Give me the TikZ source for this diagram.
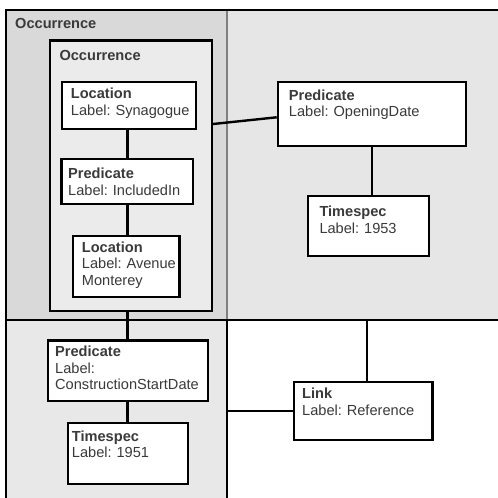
\documentclass[tikz,border=0pt]{standalone}
\usepackage{fontspec}
\setmainfont{Liberation Sans}
\usepackage{xcolor}
\definecolor{outergray}{HTML}{D9D9D9}
\definecolor{innergray}{HTML}{EBEBEB}
\definecolor{rightgray}{HTML}{E6E6E6}
\definecolor{lowgray}{HTML}{E8E8E8}
\definecolor{seamgray}{HTML}{808080}
\definecolor{txtgray}{HTML}{3A3A3A}
\frenchspacing
\hyphenpenalty=10000

\begin{document}
\begin{tikzpicture}[x=1pt, y=-1pt, line width=2.4pt,
    box/.style n args={4}{draw=black, fill=white, anchor=north west, align=left,
        inner ysep=0pt, inner xsep=#3pt, text width={#1-2*#3},
        text height=#4pt, text depth={#2-#4},
        font=\fontsize{14.6}{16.6}\selectfont, text=txtgray},
    title/.style={anchor=base west, inner sep=0pt,
        font=\fontsize{14.6}{16.6}\selectfont\bfseries, text=txtgray}]
        \useasboundingbox (0,0) rectangle (498,498);
        % regions
        \fill [outergray] (6,10) rectangle (227,320);
        \fill [rightgray] (227,10) rectangle (498,320);
        \fill [lowgray] (6,320) rectangle (227,498);
        \draw [seamgray, line width=2pt] (227,10)--(227,320);
        \draw [black] (6,498)--(6,10)--(498,10);
        \draw [black] (6,320)--(498,320);
        \draw [black] (227,320)--(227,498);
        \node[title] (outerlbl) at (14,28.8) {Occurrence};
        % inner occurrence and its nodes
        \node[box={161.7}{270.7}{9.3}{19.5}, fill=innergray] (occ) at (49,39.3) {\textbf{Occurrence}};
        \node[box={134}{47}{8.7}{16.7}] (syn) at (61,81) {\textbf{Location}\\Label:~Synagogue};
        \node[box={131.4}{45}{6.7}{19.5}] (inc) at (60.3,157.7) {\textbf{Predicate}\\Label:~IncludedIn};
        \node[box={106.3}{60.7}{8.7}{16}] (ave) at (72,235) {\textbf{Location}\\Label:~Avenue\\Monterey};
        % right side
        \node[box={188.3}{64}{11}{17.8}] (open) at (276.7,81) {\textbf{Predicate}\\Label:~OpeningDate};
        \node[box={121}{60}{11.3}{20.5}] (t53) at (307,195) {\textbf{Timespec}\\Label:~1953};
        % lower part
        \node[box={160}{60.7}{7.3}{16.2}] (cons) at (46.7,339.3) {\textbf{Predicate}\\Label:\\ConstructionStartDate};
        \node[box={120}{60.7}{4}{17.8}] (t51) at (66.7,422) {\textbf{Timespec}\\Label:~1951};
        \node[box={138.3}{58.3}{8}{17}] (link) at (293,380.7) {\textbf{Link}\\Label:~Reference};
        % connectors
        \coordinate (spine) at (127.5,0);
        \coordinate (topline) at (367,320);
        \coordinate (midline) at (227,411);
        \draw [black] (syn.south -| spine)--(inc.north -| spine);
        \draw [black] (inc.south -| spine)--(ave.north -| spine);
        \draw [black] (occ.south -| spine)--(cons.north -| spine);
        \draw [black] (cons.south -| spine)--(t51.north -| spine);
        \draw [black] ([yshift=-84.7pt]occ.north east)--([yshift=-36.3pt]open.north west);
        \draw [black] (open.south)--(open.south |- t53.north);
        \draw [black] (link.north -| topline)--(topline);
        \draw [black] (link.west |- midline)--(midline);
    \end{tikzpicture}
\end{document}
